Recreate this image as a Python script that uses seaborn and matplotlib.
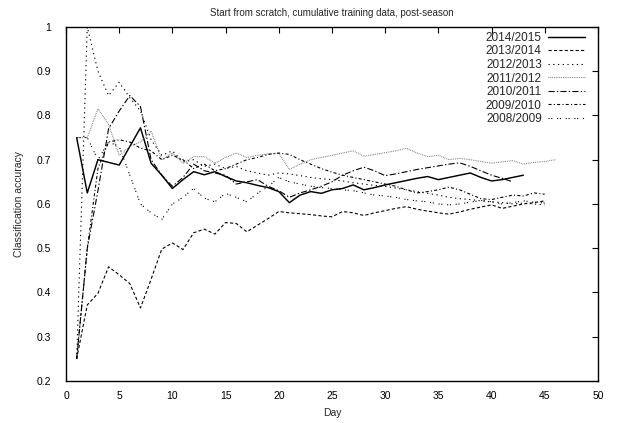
import matplotlib
matplotlib.use("Agg")
import matplotlib.pyplot as plt
import seaborn as sns
import pandas as pd

# Daily cumulative classification accuracy per season
acc_2014_2015 = [0.75, 0.625, 0.70, 0.694, 0.688, 0.73, 0.772, 0.692, 0.665, 0.635,
                 0.655, 0.673, 0.666, 0.673, 0.662, 0.652, 0.648, 0.642, 0.637, 0.628,
                 0.603, 0.62, 0.628, 0.624, 0.632, 0.635, 0.643, 0.632, 0.637, 0.643,
                 0.648, 0.653, 0.658, 0.662, 0.655, 0.66, 0.665, 0.67, 0.66, 0.652,
                 0.655, 0.66, 0.665]
acc_2013_2014 = [0.25, 0.372, 0.398, 0.458, 0.44, 0.42, 0.365, 0.43, 0.498, 0.512,
                 0.497, 0.535, 0.543, 0.532, 0.558, 0.556, 0.537, 0.552, 0.567, 0.583,
                 0.58, 0.578, 0.576, 0.573, 0.571, 0.583, 0.58, 0.574, 0.58, 0.585,
                 0.59, 0.594, 0.588, 0.584, 0.58, 0.577, 0.582, 0.588, 0.593, 0.598,
                 0.59, 0.595, 0.6, 0.603, 0.607]
acc_2012_2013 = [0.25, 1.0, 0.90, 0.845, 0.875, 0.84, 0.81, 0.745, 0.71, 0.72,
                 0.695, 0.70, 0.685, 0.69, 0.68, 0.685, 0.675, 0.67, 0.665, 0.67,
                 0.668, 0.664, 0.66, 0.657, 0.655, 0.652, 0.648, 0.645, 0.642, 0.64,
                 0.636, 0.632, 0.628, 0.624, 0.62, 0.615, 0.612, 0.61, 0.607, 0.605,
                 0.603, 0.6, 0.602, 0.6, 0.598]
acc_2011_2012 = [0.75, 0.75, 0.815, 0.78, 0.71, 0.73, 0.74, 0.765, 0.70, 0.715,
                 0.692, 0.707, 0.707, 0.692, 0.705, 0.715, 0.705, 0.71, 0.713, 0.715,
                 0.678, 0.69, 0.70, 0.705, 0.71, 0.715, 0.72, 0.708, 0.712, 0.716,
                 0.72, 0.726, 0.715, 0.707, 0.71, 0.70, 0.703, 0.70, 0.696, 0.692,
                 0.695, 0.698, 0.69, 0.694, 0.696, 0.70]
acc_2010_2011 = [0.25, 0.50, 0.63, 0.77, 0.81, 0.845, 0.82, 0.70, 0.665, 0.64,
                 0.66, 0.69, 0.675, 0.67, 0.665, 0.645, 0.65, 0.655, 0.64, 0.63,
                 0.615, 0.625, 0.632, 0.64, 0.65, 0.665, 0.675, 0.683, 0.675, 0.664,
                 0.668, 0.673, 0.678, 0.682, 0.686, 0.69, 0.693, 0.685, 0.675, 0.665,
                 0.658, 0.65]
acc_2009_2010 = [0.25, 0.5, 0.68, 0.74, 0.745, 0.74, 0.726, 0.72, 0.70, 0.71,
                 0.70, 0.68, 0.69, 0.675, 0.68, 0.69, 0.70, 0.705, 0.712, 0.715,
                 0.712, 0.70, 0.69, 0.68, 0.672, 0.665, 0.66, 0.655, 0.65, 0.645,
                 0.64, 0.632, 0.625, 0.628, 0.632, 0.638, 0.632, 0.622, 0.612, 0.61,
                 0.615, 0.62, 0.618, 0.625, 0.622]
acc_2008_2009 = [0.75, 0.75, 0.70, 0.74, 0.73, 0.665, 0.60, 0.58, 0.565, 0.60,
                 0.615, 0.635, 0.613, 0.605, 0.624, 0.615, 0.605, 0.624, 0.639, 0.66,
                 0.65, 0.645, 0.64, 0.637, 0.635, 0.632, 0.63, 0.625, 0.62, 0.618,
                 0.615, 0.61, 0.607, 0.605, 0.6, 0.598, 0.6, 0.604, 0.608, 0.605,
                 0.6, 0.603, 0.607, 0.604, 0.602]

seasons = ["2014/2015", "2013/2014", "2012/2013", "2011/2012",
           "2010/2011", "2009/2010", "2008/2009"]
series = [acc_2014_2015, acc_2013_2014, acc_2012_2013, acc_2011_2012,
          acc_2010_2011, acc_2009_2010, acc_2008_2009]

x_ticks = [0, 5, 10, 15, 20, 25, 30, 35, 40, 45, 50]
y_ticks = [0.2, 0.3, 0.4, 0.5, 0.6, 0.7, 0.8, 0.9, 1.0]
y_tick_labels = ["0.2", "0.3", "0.4", "0.5", "0.6", "0.7", "0.8", "0.9", "1"]

rows = []
for name, vals in zip(seasons, series):
    for d, v in enumerate(vals, start=1):
        rows.append({"season": name, "day": d, "accuracy": v})
df = pd.DataFrame(rows)

sns.set_style("white")
plt.rcParams["font.family"] = ["Liberation Sans", "DejaVu Sans"]
plt.rcParams["lines.scale_dashes"] = False

palette = {s: "black" for s in seasons}
palette["2011/2012"] = "#7a7a7a"
dashes = {
    "2014/2015": "",
    "2013/2014": (2.3, 1.6),
    "2012/2013": (0.9, 2.5),
    "2011/2012": (0.6, 0.7),
    "2010/2011": (4.4, 1.6, 1.0, 1.6),
    "2009/2010": (2.2, 1.6, 0.8, 1.6),
    "2008/2009": (0.8, 1.2, 0.8, 3.4),
}
widths = {s: 0.8 for s in seasons}
widths["2014/2015"] = 1.05

fig = plt.figure(figsize=(6.17, 4.23), dpi=100)
ax = fig.add_axes([0.107, 0.0993, 0.862, 0.837])

sns.lineplot(data=df, x="day", y="accuracy", hue="season", style="season",
             hue_order=seasons, style_order=seasons, palette=palette,
             dashes=dashes, ax=ax, legend=False, estimator=None)
for line, s in zip(ax.lines, seasons):
    line.set_linewidth(widths[s])
    line.set_label(s)

ax.set_xlim(0, 50)
ax.set_ylim(0.2, 1.0)
ax.set_xticks(x_ticks)
ax.set_xticklabels([str(t) for t in x_ticks])
ax.set_yticks(y_ticks)
ax.set_yticklabels(y_tick_labels)
ax.tick_params(direction="in", length=4, width=0.8, top=True, right=True,
               labelsize=7.5, colors="black")
ax.tick_params(axis="y", pad=11)
ax.tick_params(axis="x", pad=7)
for sp in ax.spines.values():
    sp.set_visible(True)
    sp.set_color("black")
    sp.set_linewidth(1.0)

ax.set_xlabel("Day", fontsize=7.5, labelpad=5)
ax.set_ylabel("Classification accuracy", fontsize=7.5, labelpad=9)
ax.set_title("Start from scratch, cumulative training data, post-season",
             fontsize=7.0, pad=8)

leg = ax.legend(loc="upper right", bbox_to_anchor=(0.99, 1.006), frameon=False,
                fontsize=8.5, markerfirst=False, handlelength=3.2,
                handletextpad=0.5, labelspacing=0.13, borderaxespad=0.2)

fig.savefig("out.png", dpi=100)
